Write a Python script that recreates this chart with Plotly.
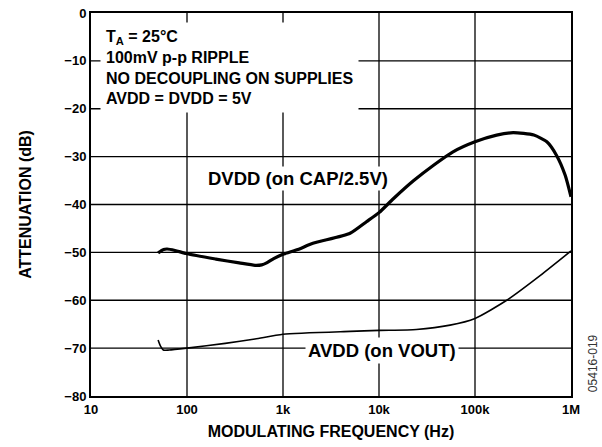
import plotly.graph_objects as go

# DVDD (on CAP/2.5V) curve
dvdd_freq = [50, 57, 62, 75, 100, 200, 350, 511, 600, 676, 800, 1000, 1430, 2050,
             5000, 7400, 10000, 14100, 23000, 37000, 59000, 100000, 168000, 250000,
             410000, 560000, 705000, 870000, 1000000]
dvdd_db = [-50.1, -49.4, -49.3, -49.6, -50.3, -51.4, -52.2, -52.7, -52.6, -52.2, -51.3, -50.4,
           -49.4, -48.1, -46.0, -43.6, -41.7, -38.8, -35.0, -31.8, -29.0, -26.9, -25.5,
           -25.0, -25.5, -26.9, -29.7, -33.9, -38.4]

# AVDD (on VOUT) curve
avdd_freq = [50, 53, 56.6, 65, 100, 250, 511, 1000, 5000, 10000, 24500, 55000,
             100000, 214000, 480000, 1000000]
avdd_db = [-68.3, -69.6, -70.4, -70.4, -70.0, -69.0, -68.1, -67.1, -66.5, -66.3,
           -66.1, -65.2, -63.8, -60.0, -54.8, -49.7]

x_tickvals = [10, 100, 1000, 10000, 100000, 1000000]
x_ticktext = ["10", "100", "1k", "10k", "100k", "1M"]
y_tickvals = [0, -10, -20, -30, -40, -50, -60, -70, -80]

FONT = "Liberation Sans, Arial, Helvetica, sans-serif"

fig = go.Figure()

# grid lines built from the tick arrays (drawn as a background line trace)
gx, gy = [], []
for v in x_tickvals[1:-1]:
    gx += [v, v, None]
    gy += [y_tickvals[0], y_tickvals[-1], None]
for v in y_tickvals[1:-1]:
    gx += [x_tickvals[0], x_tickvals[-1], None]
    gy += [v, v, None]
fig.add_trace(go.Scatter(x=gx, y=gy, mode="lines", line=dict(color="black", width=1.3),
                         showlegend=False, hoverinfo="skip", connectgaps=False))

fig.add_trace(go.Scatter(x=dvdd_freq, y=dvdd_db, mode="lines",
                         line=dict(color="black", width=3.2, shape="spline", smoothing=0.6),
                         showlegend=False, hoverinfo="skip"))
fig.add_trace(go.Scatter(x=avdd_freq, y=avdd_db, mode="lines",
                         line=dict(color="black", width=1.6, shape="spline", smoothing=0.6),
                         showlegend=False, hoverinfo="skip"))

fig.update_layout(
    width=602, height=447,
    margin=dict(l=91, r=31, t=12.5, b=51, autoexpand=False),
    paper_bgcolor="white", plot_bgcolor="white",
    font=dict(family=FONT, color="black", weight="bold"),
    xaxis=dict(type="log", range=[1, 6], tickvals=x_tickvals, ticktext=x_ticktext,
               showgrid=False,
               showline=True, linecolor="black", linewidth=2, mirror=True,
               ticks="", zeroline=False, automargin=False,
               tickfont=dict(size=13, family=FONT, weight="bold"),
               title=dict(text="MODULATING FREQUENCY (Hz)", standoff=10,
                          font=dict(size=16, family=FONT, weight="bold"))),
    yaxis=dict(range=[-80, 0], tickvals=y_tickvals,
               showgrid=False,
               showline=True, linecolor="black", linewidth=2, mirror=True,
               ticks="", zeroline=False, automargin=False,
               tickfont=dict(size=13, family=FONT, weight="bold"),
               title=dict(text="ATTENUATION (dB)", standoff=29,
                          font=dict(size=16, family=FONT, weight="bold"))),
)

fig.add_annotation(xref="paper", yref="paper", x=0.019, y=0.977,
                   xanchor="left", yanchor="top", align="left", showarrow=False,
                   text="T<sub>A</sub> = 25°C<br>100mV p-p RIPPLE<br>NO DECOUPLING ON SUPPLIES<br>AVDD = DVDD = 5V",
                   font=dict(size=16, family=FONT, weight="bold", color="black"),
                   bgcolor="white", borderpad=5)

fig.add_annotation(xref="x", yref="y", x=3.161, y=-34.55, showarrow=False,
                   text="DVDD (on CAP/2.5V)",
                   font=dict(size=18.5, family=FONT, weight="bold", color="black"),
                   bgcolor="white", borderpad=1)

fig.add_annotation(xref="x", yref="y", x=4.03, y=-70.45, showarrow=False,
                   text="AVDD (on VOUT)",
                   font=dict(size=18.5, family=FONT, weight="bold", color="black"),
                   bgcolor="white", borderpad=2)

fig.add_annotation(xref="paper", yref="paper", x=1.046, y=0.086, showarrow=False,
                   xanchor="center", yanchor="middle",
                   text="05416-019", textangle=-90,
                   font=dict(size=12, family=FONT, weight="normal", color="#333333"))

# remove the default page margin so the figure sits at the window's top-left corner
fig.write_html("out.html", config={"displayModeBar": False},
               post_script="document.body.style.margin='0';")
